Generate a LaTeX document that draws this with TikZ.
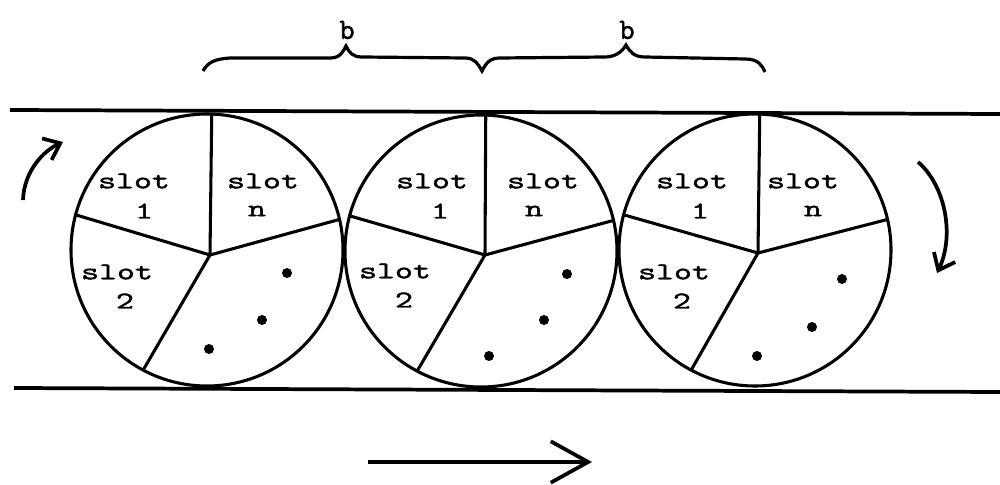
\documentclass[tikz,border=0pt]{standalone}
\usepackage{fontspec}
\newfontfamily\slotfont[FakeStretch=1.45,FakeBold=1.8]{Latin Modern Mono}
\newfontfamily\bfont[FakeBold=1.8]{Latin Modern Mono}
\usetikzlibrary{arrows.meta}
\begin{document}
\begin{tikzpicture}[x=0.75pt,y=-0.75pt,
  wheel/.style={circle,draw,line width=2.3pt,minimum size=204pt,inner sep=0pt,outer sep=0pt},
  spoke/.style={line width=2.3pt},
  rail/.style={line width=2.8pt},
  lbl/.style={font=\slotfont\fontsize{18}{18}\selectfont,inner sep=0pt,anchor=center},
  blbl/.style={font=\bfont\fontsize{22}{22}\selectfont,inner sep=0pt,anchor=center},
  dotm/.style={circle,fill,inner sep=0pt,minimum size=7.5pt},
  barb/.style={-{Straight Barb[length=#1,width=#1*1.6]}}
]
\useasboundingbox (0,0) rectangle (1000,485);
% rails
\coordinate (tl) at (10,110); \coordinate (tr) at (1000,114);
\coordinate (bl) at (14,388); \coordinate (br) at (1000,392);
\draw[rail] (tl) -- (tr);
\draw[rail] (bl) -- (br);
% wheels
\node[wheel] (c1) at (207,250) {};
\node[wheel] (c2) at (481,251) {};
\node[wheel] (c3) at (755,250) {};
\coordinate (h1) at (210,255);
\coordinate (h2) at (485,255);
\coordinate (h3) at (758,253);
\foreach \i in {1,2,3}{
  \draw[spoke] (h\i) -- (c\i.88);
  \draw[spoke] (h\i) -- (c\i.165);
  \draw[spoke] (h\i) -- (c\i.13);
  \draw[spoke] (h\i) -- (c\i.242);
}
% labels circle 1
\node[lbl] (a1) at (134,181) {slot};
\node[lbl] (a1n) at (144,211) {1};
\node[lbl] (b1) at (263,181) {slot};
\node[lbl] (b1n) at (257,211) {n};
\node[lbl] (d1) at (117,272) {slot};
\node[lbl] (d1n) at (125,301) {2};
% labels circle 2
\node[lbl] (a2) at (432,181) {slot};
\node[lbl] (a2n) at (440,211) {1};
\node[lbl] (b2) at (543,181) {slot};
\node[lbl] (b2n) at (534,211) {n};
\node[lbl] (d2) at (395,271) {slot};
\node[lbl] (d2n) at (404,300) {2};
% labels circle 3
\node[lbl] (a3) at (692,181) {slot};
\node[lbl] (a3n) at (700,211) {1};
\node[lbl] (b3) at (803,181) {slot};
\node[lbl] (b3n) at (813,211) {n};
\node[lbl] (d3) at (674,272) {slot};
\node[lbl] (d3n) at (682,301) {2};
% dots
\node[dotm] (p11) at (287,273) {};
\node[dotm] (p12) at (262,320) {};
\node[dotm] (p13) at (209,349) {};
\node[dotm] (p21) at (567,274) {};
\node[dotm] (p22) at (544,320) {};
\node[dotm] (p23) at (489,356) {};
\node[dotm] (p31) at (842,279) {};
\node[dotm] (p32) at (812,327) {};
\node[dotm] (p33) at (757,356) {};
% brace
\draw[line width=2.4pt] (203,71) .. controls (208,62) and (215,59) .. (230,58) -- (330,58)
  .. controls (340,58) and (343,52) .. (346,46) .. controls (349,52) and (352,57) .. (362,57)
  -- (465,58) .. controls (475,58) and (478,64) .. (482,71)
  .. controls (486,63) and (490,58) .. (500,58) -- (605,57)
  .. controls (615,57) and (622,52) .. (626,45) .. controls (630,52) and (634,57) .. (645,57)
  -- (745,59) .. controls (758,59) and (762,65) .. (765,72);
\node[blbl] (bl1) at (347,30) {b};
\node[blbl] (bl2) at (627,30) {b};
% rotation arrows
\coordinate (la) at (23,200); \coordinate (lb) at (63,142);
\draw[rail,barb=11pt] (la) .. controls (24,170) and (45,150) .. (lb);
\coordinate (ra) at (918,162); \coordinate (rb) at (937,273);
\draw[rail,barb=11pt] (ra) .. controls (945,185) and (955,235) .. (rb);
% motion arrow
\coordinate (ma) at (368,462); \coordinate (mb) at (592,462);
\draw[rail,-{Straight Barb[length=28pt,width=31pt]}] (ma) -- (mb);
\end{tikzpicture}
\end{document}
